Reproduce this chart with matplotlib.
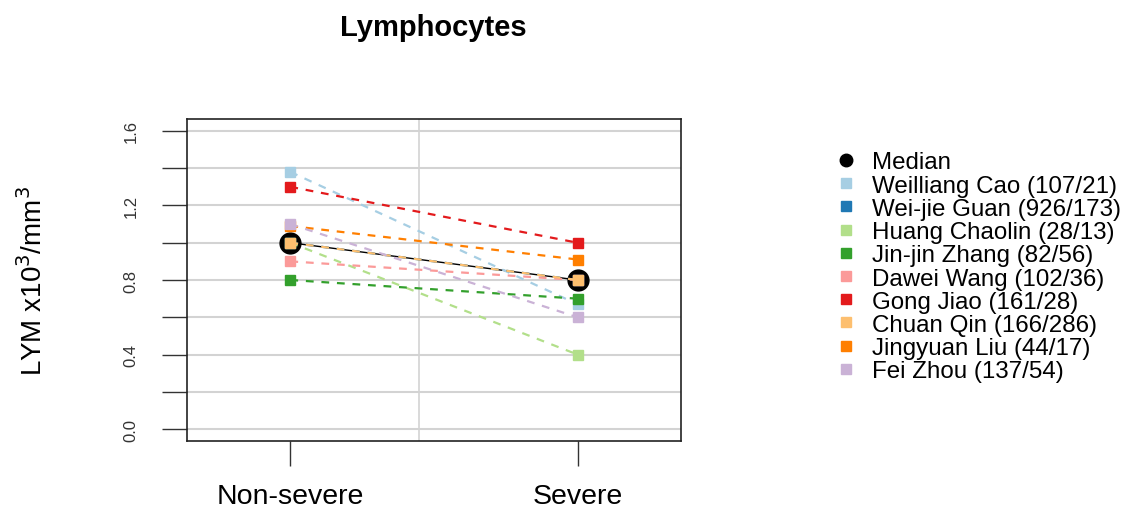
import matplotlib.pyplot as plt
from matplotlib.lines import Line2D

plt.rcParams['font.family'] = ['Liberation Sans', 'DejaVu Sans']

groups = ['Non-severe', 'Severe']
median = [1.0, 0.8]

studies = ['Weilliang Cao (107/21)', 'Wei-jie Guan (926/173)', 'Huang Chaolin (28/13)',
           'Jin-jin Zhang (82/56)', 'Dawei Wang (102/36)', 'Gong Jiao (161/28)',
           'Chuan Qin (166/286)', 'Jingyuan Liu (44/17)', 'Fei Zhou (137/54)']
nonsevere = [1.38, 1.0, 1.0, 0.8, 0.9, 1.3, 1.0, 1.09, 1.1]
severe = [0.67, 0.8, 0.4, 0.7, 0.8, 1.0, 0.8, 0.91, 0.6]
colors = ['#A6CEE3', '#1F78B4', '#B2DF8A', '#33A02C', '#FB9A99', '#E31A1C',
          '#FDBF6F', '#FF7F00', '#CAB2D6']

fig = plt.figure(figsize=(11.25, 5.1), dpi=100)
ax = fig.add_axes([0.1662, 0.1333, 0.4391, 0.6314])
x = [1, 2]

for v in [i * 0.2 for i in range(9)]:
    ax.axhline(v, color='#D3D3D3', lw=1.5, zorder=0)
ax.axvline(1.447, color='#D3D3D3', lw=1.2, zorder=0)

ax.plot(x, median, color='black', lw=1, marker='o', ms=15, mfc='black', mec='black', zorder=2)
for i in range(len(studies)):
    ax.plot(x, [nonsevere[i], severe[i]], color=colors[i], lw=1.6, ls=(0, (3.5, 3.5)),
            marker='s', ms=7.5, zorder=3)

ax.set_xlim(0.64, 2.36)
ax.set_ylim(-0.064, 1.664)
ax.set_xticks(x)
ax.set_xticklabels(groups, fontsize=20.5)
ax.set_yticks([i * 0.2 for i in range(9)])
ax.set_yticklabels(['0.0', '', '0.4', '', '0.8', '', '1.2', '', '1.6'],
                   rotation=90, va='center', fontsize=12, color='#333333')
ax.tick_params(axis='both', length=18, width=1, color='#333333')
ax.tick_params(axis='x', pad=12)
ax.tick_params(axis='y', pad=17)
for s in ax.spines.values():
    s.set_linewidth(1.2)
    s.set_color('#222222')
ax.set_ylabel('LYM x10$^3$/mm$^3$', fontsize=20, labelpad=54)
fig.text(0.385, 0.945, 'Lymphocytes', ha='center', va='center', fontsize=21, fontweight='bold')

handles = [Line2D([], [], ls='none', marker='o', ms=9, color='black')]
labels = ['Median']
for c, s in zip(colors, studies):
    handles.append(Line2D([], [], ls='none', marker='s', ms=7.5, color=c))
    labels.append(s)
fig.legend(handles, labels, loc='upper left', bbox_to_anchor=(0.733, 0.72), frameon=False,
           fontsize=17.4, handletextpad=0.55, labelspacing=0.05, borderaxespad=0,
           handlelength=1.0)

fig.savefig('out.png', dpi=100)
